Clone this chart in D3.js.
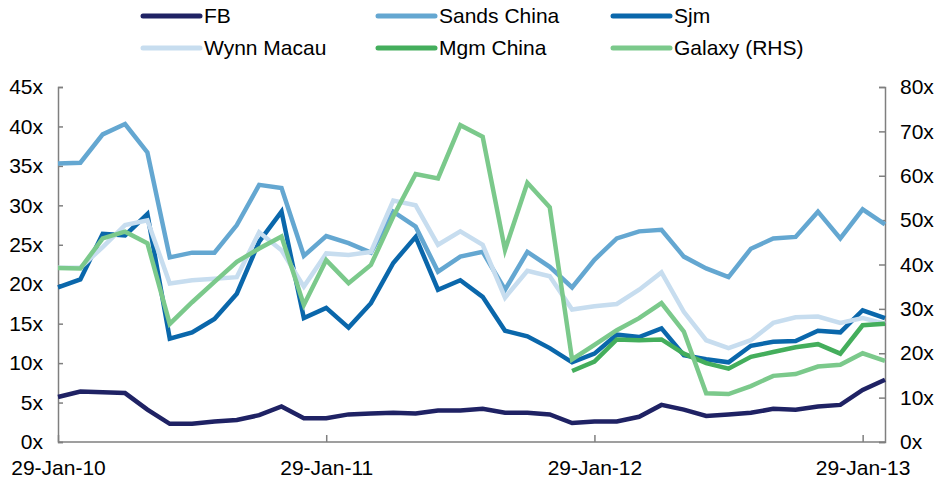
<!DOCTYPE html>
<html>
<head>
<meta charset="utf-8">
<script src="https://cdn.jsdelivr.net/npm/d3@7"></script>
<style>
  body { margin: 0; background: #fff; }
  svg text { font-family: Arial, "Liberation Sans", sans-serif; fill: #000; }
</style>
</head>
<body>
<svg id="chart" width="936" height="486"></svg>
<script>
// monthly points, 29-Jan-10 .. 28-Feb-13
const months = d3.range(38).map(i => new Date(2010, i, 1));
const tickIdx = [0, 12, 24, 36];
const tickLabels = ['29-Jan-10', '29-Jan-11', '29-Jan-12', '29-Jan-13'];
const leftTicks = [0, 5, 10, 15, 20, 25, 30, 35, 40, 45];
const rightTicks = [0, 10, 20, 30, 40, 50, 60, 70, 80];

const fb = [5.7, 6.4, 6.3, 6.2, 4.1, 2.3, 2.3, 2.6, 2.8, 3.4, 4.5, 3.0, 3.0, 3.5, 3.6, 3.7, 3.6, 4.0, 4.0, 4.2,
  3.7, 3.7, 3.5, 2.4, 2.6, 2.6, 3.2, 4.7, 4.1, 3.3, 3.5, 3.7, 4.2, 4.1, 4.5, 4.7, 6.6, 7.9];
const sandsChina = [35.3, 35.4, 39.0, 40.3, 36.7, 23.4, 24.0, 24.0, 27.5, 32.6, 32.2, 23.6, 26.1, 25.2, 24.0, 29.2,
  27.3, 21.6, 23.5, 24.1, 19.3, 24.1, 22.2, 19.6, 23.1, 25.8, 26.7, 26.9, 23.5, 22.0, 20.9, 24.5, 25.8, 26.0, 29.2,
  25.8, 29.5, 27.6];
const sjm = [19.6, 20.6, 26.4, 26.2, 28.9, 13.1, 13.9, 15.6, 18.8, 25.4, 29.2, 15.7, 17.0, 14.5, 17.6, 22.7, 26.0,
  19.3, 20.5, 18.4, 14.1, 13.4, 11.9, 10.1, 11.2, 13.6, 13.3, 14.4, 11.0, 10.5, 10.1, 12.2, 12.7, 12.8, 14.1, 13.9,
  16.7, 15.7];
const wynnMacau = [22.1, 22.1, 24.7, 27.5, 28.1, 20.1, 20.5, 20.7, 20.9, 26.6, 24.3, 19.7, 23.9, 23.7, 24.1, 30.6,
  30.0, 25.0, 26.7, 25.0, 18.3, 21.7, 21.0, 16.8, 17.2, 17.5, 19.3, 21.5, 16.5, 12.9, 11.9, 12.9, 15.1, 15.8, 15.9,
  15.1, 15.7, 15.0];
const mgmChina = [null, null, null, null, null, null, null, null, null, null, null, null, null, null, null, null,
  null, null, null, null, null, null, null, 9.0, 10.2, 13.0, 12.9, 13.0, 11.2, 10.0, 9.3, 10.8, 11.4, 12.0, 12.4,
  11.2, 14.8, 15.0];
const galaxy = [39.2, 39.1, 45.9, 47.4, 44.8, 26.6, 31.5, 36.1, 40.6, 43.6, 46.3, 30.9, 41.0, 35.8, 39.9, 50.8,
  60.4, 59.4, 71.4, 68.8, 43.3, 58.4, 52.9, 18.6, 21.9, 25.2, 27.9, 31.3, 24.9, 11.0, 10.8, 12.6, 14.9, 15.3, 17.0,
  17.4, 20.0, 18.3];

const series = [
  { name: 'FB', values: fb, color: '#1f2264', axis: 'left' },
  { name: 'Sands China', values: sandsChina, color: '#64a7d1', axis: 'left' },
  { name: 'Sjm', values: sjm, color: '#0a67ab', axis: 'left' },
  { name: 'Wynn Macau', values: wynnMacau, color: '#c7ddef', axis: 'left' },
  { name: 'Mgm China', values: mgmChina, color: '#44ae5c', axis: 'left' },
  { name: 'Galaxy (RHS)', values: galaxy, color: '#7bc98b', axis: 'right' },
];

const svg = d3.select('#chart');
const plotLeft = 58, plotRight = 885, plotTop = 87, plotBottom = 442;

const x = d3.scaleLinear().domain([0, months.length - 1]).range([plotLeft, plotRight]);
const yL = d3.scaleLinear().domain([0, 45]).range([plotBottom, plotTop]);
const yR = d3.scaleLinear().domain([0, 80]).range([plotBottom, plotTop]);

// axes
const axisColor = '#7f7f7f';
const gL = svg.append('g').attr('transform', `translate(${plotLeft},0)`)
  .call(d3.axisLeft(yL).tickValues(leftTicks).tickSize(-5).tickPadding(15).tickFormat(d => d + 'x'));
const gR = svg.append('g').attr('transform', `translate(${plotRight},0)`)
  .call(d3.axisRight(yR).tickValues(rightTicks).tickSize(-6).tickPadding(15).tickFormat(d => d + 'x'));
const gX = svg.append('g').attr('transform', `translate(0,${plotBottom})`)
  .call(d3.axisBottom(x).tickValues(tickIdx).tickSize(-7).tickPadding(22).tickFormat((d, i) => tickLabels[i]));

[gL, gR, gX].forEach(g => {
  g.select('.domain').attr('stroke', axisColor).attr('stroke-width', 1.5);
  g.selectAll('.tick line').attr('stroke', axisColor).attr('stroke-width', 1.5);
  g.selectAll('.tick text').attr('font-size', 21).attr('fill', '#000');
});
gX.select('.domain').attr('d', `M${plotLeft},0H${plotRight}`);
gX.selectAll('.tick text').attr('dy', '0.5em');

// lines
series.forEach(s => {
  const yS = s.axis === 'left' ? yL : yR;
  const line = d3.line()
    .defined(d => d != null)
    .x((d, i) => x(i))
    .y(d => yS(d));
  svg.append('path')
    .datum(s.values)
    .attr('fill', 'none')
    .attr('stroke', s.color)
    .attr('stroke-width', 4.5)
    .attr('stroke-linejoin', 'miter')
    .attr('d', line);
});

// legend
const legendX = [143, 378, 613];
const legendY = [16, 48];
const legend = svg.append('g');
series.forEach((s, i) => {
  const lx = legendX[i % 3], ly = legendY[Math.floor(i / 3)];
  legend.append('line')
    .attr('x1', lx).attr('x2', lx + 57)
    .attr('y1', ly).attr('y2', ly)
    .attr('stroke', s.color).attr('stroke-width', 5).attr('stroke-linecap', 'round');
  legend.append('text')
    .attr('x', lx + 61).attr('y', ly + 1)
    .attr('dominant-baseline', 'middle')
    .attr('font-size', 21)
    .text(s.name);
});
</script>
</body>
</html>
